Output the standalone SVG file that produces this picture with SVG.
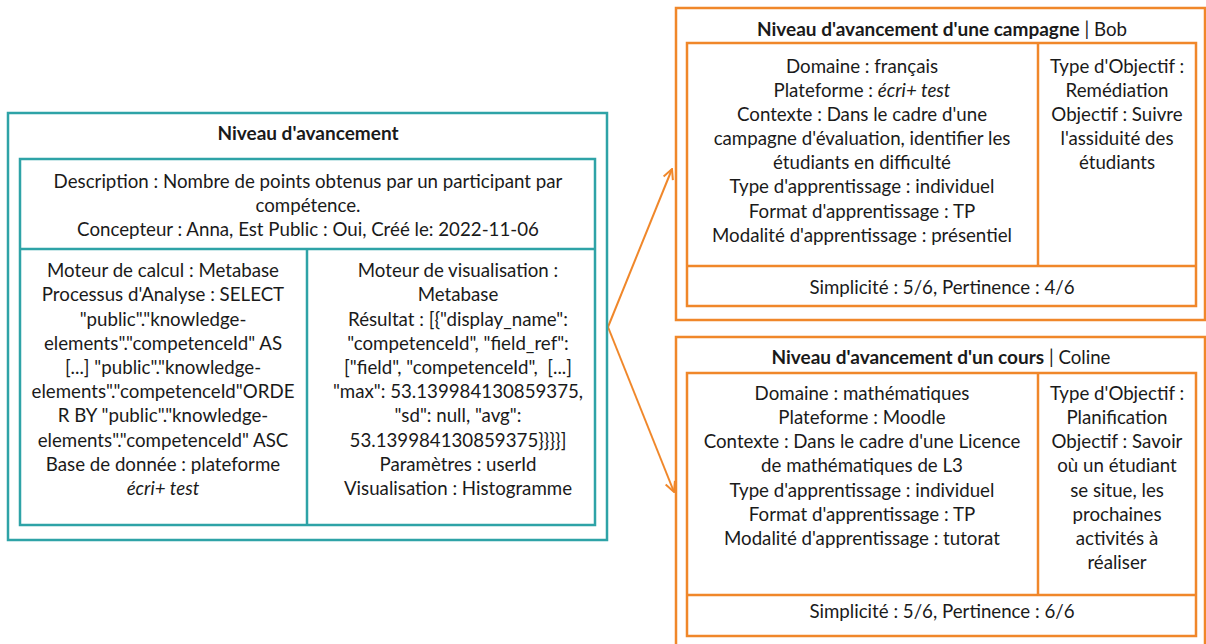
<svg xmlns="http://www.w3.org/2000/svg" width="1206" height="644" viewBox="0 0 1206 644">
<defs>
<style>
.t{font-family:Lato,"Noto Sans","Liberation Sans",sans-serif;font-size:18.7px;fill:#1a1a1a;text-anchor:middle}
.b{font-weight:bold;font-size:19px}
.it{font-style:italic}
.teal{fill:none;stroke:#2ea3a7;stroke-width:2.5}
.or{fill:none;stroke:#f0872a;stroke-width:2.5}
.conn{fill:none;stroke:#f0872a;stroke-width:2}
</style>
<marker id="arr" viewBox="0 0 12 12" refX="11" refY="6" markerWidth="12" markerHeight="12" markerUnits="userSpaceOnUse" orient="auto">
<path d="M1,1 L11,6 L1,11" fill="none" stroke="#f0872a" stroke-width="2"/>
</marker>
</defs>
<rect width="1206" height="644" fill="#ffffff"/>

<g id="connectors">
<path class="conn" d="M608,327 L672,169" marker-end="url(#arr)"/>
<path class="conn" d="M608,327 L674,492" marker-end="url(#arr)"/>
</g>

<g id="niveau-avancement">
<rect class="teal" x="8" y="113" width="599" height="427"/>
<rect class="teal" x="20" y="159" width="575" height="366"/>
<line class="teal" x1="20" y1="249" x2="595" y2="249"/>
<line class="teal" x1="307" y1="249" x2="307" y2="525"/>
<text class="t b" x="308" y="140">Niveau d'avancement</text>
<text class="t" x="308" y="188">Description : Nombre de points obtenus par un participant par</text>
<text class="t" x="308" y="212">compétence.</text>
<text class="t" x="308" y="236">Concepteur : Anna, Est Public : Oui, Créé le: 2022-11-06</text>
<text class="t" x="163" y="277">Moteur de calcul : Metabase</text>
<text class="t" x="163" y="301">Processus d'Analyse : SELECT</text>
<text class="t" x="163" y="326">"public"."knowledge-</text>
<text class="t" x="163" y="350">elements"."competenceId" AS</text>
<text class="t" x="163" y="374">[...] "public"."knowledge-</text>
<text class="t" x="163" y="398">elements"."competenceId"ORDE</text>
<text class="t" x="163" y="422">R BY "public"."knowledge-</text>
<text class="t" x="163" y="447">elements"."competenceId" ASC</text>
<text class="t" x="163" y="471">Base de donnée : plateforme</text>
<text class="t it" x="163" y="495">écri+ test</text>
<text class="t" x="458" y="277">Moteur de visualisation :</text>
<text class="t" x="458" y="301">Metabase</text>
<text class="t" x="458" y="326">Résultat : [{"display_name":</text>
<text class="t" x="458" y="350">"competenceId", "field_ref":</text>
<text class="t" x="458" y="374" xml:space="preserve">["field", "competenceId",  [...]</text>
<text class="t" x="458" y="398">"max": 53.139984130859375,</text>
<text class="t" x="458" y="422">"sd": null, "avg":</text>
<text class="t" x="458" y="447">53.139984130859375}}}}]</text>
<text class="t" x="458" y="471">Paramètres : userId</text>
<text class="t" x="458" y="495">Visualisation : Histogramme</text>
</g>

<g id="campagne">
<rect class="or" x="676" y="8" width="529" height="312"/>
<rect class="or" x="687" y="43" width="509" height="263"/>
<line class="or" x1="687" y1="266" x2="1196" y2="266"/>
<line class="or" x1="1038" y1="43" x2="1038" y2="266"/>
<text class="t" x="942" y="36"><tspan class="b">Niveau d'avancement d'une campagne</tspan> | Bob</text>
<text class="t" x="862" y="73">Domaine : français</text>
<text class="t" x="862" y="97">Plateforme : <tspan class="it">écri+ test</tspan></text>
<text class="t" x="862" y="121">Contexte : Dans le cadre d'une</text>
<text class="t" x="862" y="145">campagne d'évaluation, identifier les</text>
<text class="t" x="862" y="169">étudiants en difficulté</text>
<text class="t" x="862" y="193">Type d'apprentissage : individuel</text>
<text class="t" x="862" y="218">Format d'apprentissage : TP</text>
<text class="t" x="862" y="242">Modalité d'apprentissage : présentiel</text>
<text class="t" x="1117" y="73">Type d'Objectif :</text>
<text class="t" x="1117" y="97">Remédiation</text>
<text class="t" x="1117" y="121">Objectif : Suivre</text>
<text class="t" x="1117" y="145">l'assiduité des</text>
<text class="t" x="1117" y="169">étudiants</text>
<text class="t" x="942" y="294">Simplicité : 5/6, Pertinence : 4/6</text>
</g>

<g id="cours">
<rect class="or" x="676" y="337" width="529" height="314"/>
<rect class="or" x="687" y="373" width="509" height="263"/>
<line class="or" x1="687" y1="595" x2="1196" y2="595"/>
<line class="or" x1="1038" y1="373" x2="1038" y2="595"/>
<text class="t" x="941" y="364"><tspan class="b">Niveau d'avancement d'un cours</tspan> | Coline</text>
<text class="t" x="862" y="400">Domaine : mathématiques</text>
<text class="t" x="862" y="424">Plateforme : Moodle</text>
<text class="t" x="862" y="448">Contexte : Dans le cadre d'une Licence</text>
<text class="t" x="862" y="472">de mathématiques de L3</text>
<text class="t" x="862" y="497">Type d'apprentissage : individuel</text>
<text class="t" x="862" y="521">Format d'apprentissage : TP</text>
<text class="t" x="862" y="545">Modalité d'apprentissage : tutorat</text>
<text class="t" x="1117" y="400">Type d'Objectif :</text>
<text class="t" x="1117" y="424">Planification</text>
<text class="t" x="1117" y="448">Objectif : Savoir</text>
<text class="t" x="1117" y="472">où un étudiant</text>
<text class="t" x="1117" y="497">se situe, les</text>
<text class="t" x="1117" y="521">prochaines</text>
<text class="t" x="1117" y="545">activités à</text>
<text class="t" x="1117" y="569">réaliser</text>
<text class="t" x="942" y="618">Simplicité : 5/6, Pertinence : 6/6</text>
</g>
</svg>
